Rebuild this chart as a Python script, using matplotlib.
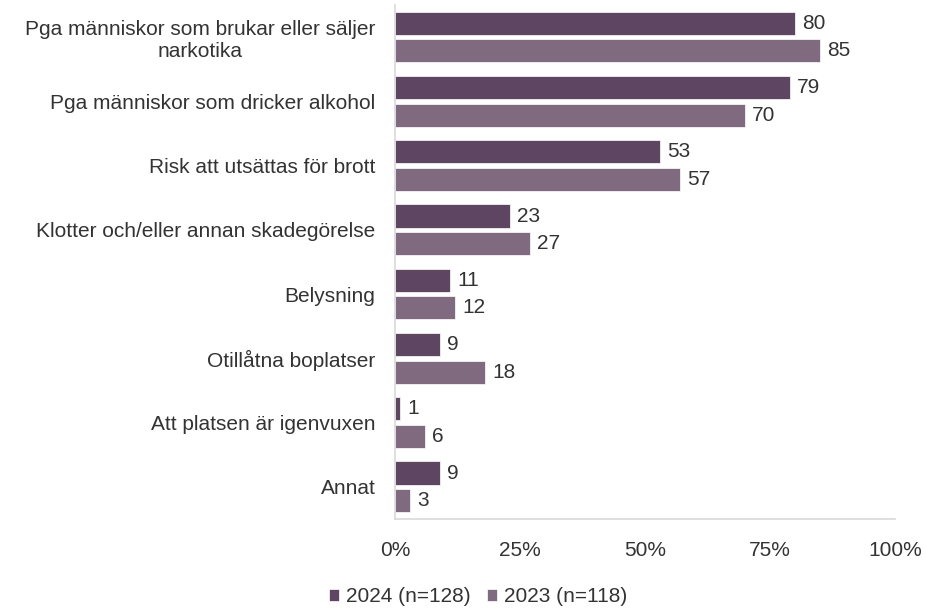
import matplotlib.pyplot as plt
import numpy as np

plt.rcParams["font.family"] = ["Liberation Sans", "DejaVu Sans"]

categories = [
    "Pga människor som brukar eller säljer\nnarkotika",
    "Pga människor som dricker alkohol",
    "Risk att utsättas för brott",
    "Klotter och/eller annan skadegörelse",
    "Belysning",
    "Otillåtna boplatser",
    "Att platsen är igenvuxen",
    "Annat",
]
values_2024 = [80, 79, 53, 23, 11, 9, 1, 9]
values_2023 = [85, 70, 57, 27, 12, 18, 6, 3]
series_labels = ["2024 (n=128)", "2023 (n=118)"]
tick_values = [0, 25, 50, 75, 100]

color_2024 = "#5e4561"
color_2023 = "#7f6a80"
text_color = "#333333"
fs = 15

fig = plt.figure(figsize=(9.26, 6.09), dpi=100)
ax = fig.add_axes([0.4266, 0.1478, 0.540, 0.844])

y = np.arange(len(categories))
h = 0.36
gap = 0.07
b1 = ax.barh(y - (h + gap) / 2, values_2024, height=h, color=color_2024,
             edgecolor="white", linewidth=0.5, label=series_labels[0])
b2 = ax.barh(y + (h + gap) / 2, values_2023, height=h, color=color_2023,
             edgecolor="white", linewidth=0.5, label=series_labels[1])

for bars in (b1, b2):
    ax.bar_label(bars, padding=5, fontsize=fs, color=text_color)

ax.set_ylim(len(categories) - 0.5, -0.5)
ax.set_xlim(0, 100)
ax.set_yticks(y)
ax.set_yticklabels(categories, fontsize=fs, color=text_color, multialignment="center")
ax.set_xticks(tick_values)
ax.set_xticklabels([f"{v}%" for v in tick_values], fontsize=fs, color=text_color)
ax.tick_params(axis="y", length=0, pad=14)
ax.tick_params(axis="x", length=0, pad=16)

for side in ("top", "right"):
    ax.spines[side].set_visible(False)
for side in ("left", "bottom"):
    ax.spines[side].set_color("#d9d9d9")
    ax.spines[side].set_linewidth(1.2)

fig.legend(handles=[b1, b2], labels=series_labels, loc="center",
           bbox_to_anchor=(0.516, 0.02), ncol=2, frameon=False, fontsize=fs,
           handlelength=0.5, handleheight=0.5, handletextpad=0.3,
           columnspacing=0.8, labelcolor=text_color)

fig.savefig("out.png", dpi=100, facecolor="white")
